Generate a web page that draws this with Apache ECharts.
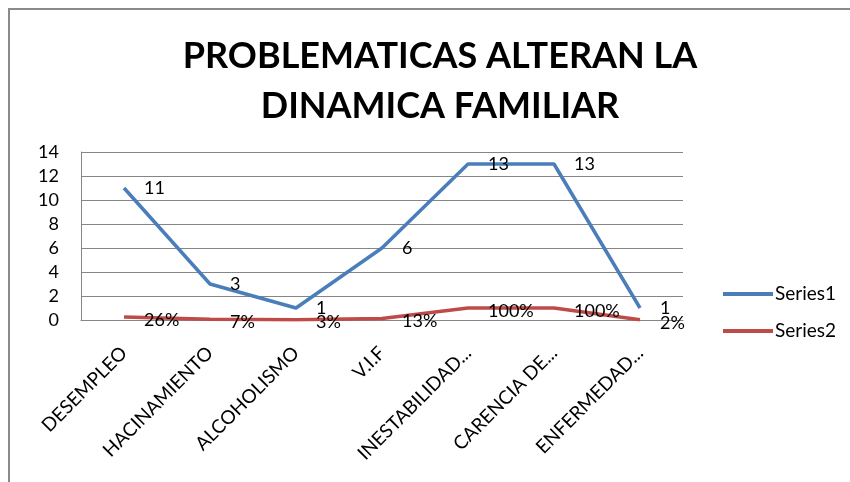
<!DOCTYPE html>
<html>
<head>
<meta charset="utf-8">
<script src="https://cdn.jsdelivr.net/npm/echarts@6/dist/echarts.min.js"></script>
<style>
html,body{margin:0;padding:0;background:#fff;}
#c{width:850px;height:482px;}
</style>
</head>
<body>
<div id="c"></div>
<script>
const titleLines = ['PROBLEMATICAS ALTERAN LA', 'DINAMICA FAMILIAR'];
const categories = ['DESEMPLEO', 'HACINAMIENTO', 'ALCOHOLISMO', 'V.I.F', 'INESTABILIDAD...', 'CARENCIA DE...', 'ENFERMEDAD...'];
const series1 = [11, 3, 1, 6, 13, 13, 1];
const series2 = [0.26, 0.07, 0.03, 0.13, 1.00, 1.00, 0.02];
const yTicks = {min: 0, max: 14, interval: 2};

const FONT = 'Lato, "Liberation Sans", sans-serif';
const chart = echarts.init(document.getElementById('c'), null, {renderer: 'canvas'});
chart.setOption({
  backgroundColor: '#fff',
  animation: false,
  title: {
    text: titleLines.join('\n'),
    left: 435, top: 26, textAlign: 'center',
    textStyle: {fontFamily: FONT, fontSize: 36, fontWeight: 'bold', color: '#000', lineHeight: 50}
  },
  graphic: [{
    type: 'rect', shape: {x: 9, y: 9, width: 1000, height: 1000},
    style: {fill: 'none', stroke: '#8a8a8a', lineWidth: 2}, silent: true, z: 100
  }],
  legend: {
    orient: 'vertical', left: 718, top: 279,
    itemWidth: 50, itemHeight: 4, itemGap: 17,
    icon: 'rect',
    textStyle: {fontFamily: FONT, fontSize: 19, lineHeight: 20, color: '#000', padding: [0,0,0,-3]},
    data: ['Series1', 'Series2']
  },
  grid: {left: 81, right: 167, top: 152, bottom: 162, containLabel: false},
  xAxis: {
    type: 'category', data: categories, boundaryGap: true,
    axisLine: {lineStyle: {color: '#868686', width: 1}},
    axisTick: {show: false},
    axisLabel: {rotate: 45, interval: 0, margin: 30, fontFamily: FONT, fontSize: 19, color: '#000'}
  },
  yAxis: {
    type: 'value', min: yTicks.min, max: yTicks.max, interval: yTicks.interval,
    axisLine: {show: true, lineStyle: {color: '#868686', width: 1}},
    axisTick: {show: false},
    splitLine: {lineStyle: {color: '#868686', width: 1}},
    axisLabel: {margin: 22, fontFamily: FONT, fontSize: 18, color: '#000'}
  },
  series: [{
    name: 'Series1', type: 'line', data: series1, symbol: 'circle', symbolSize: 0, showSymbol: true,
    lineStyle: {color: '#4A7EBB', width: 3.5}, itemStyle: {color: '#4A7EBB'},
    label: {show: true, position: 'right', distance: 20, fontFamily: FONT, fontSize: 18, color: '#000'},
    z: 3
  }, {
    name: 'Series2', type: 'line', data: series2, symbol: 'circle', symbolSize: 0, showSymbol: true,
    lineStyle: {color: '#BE4B48', width: 3.5}, itemStyle: {color: '#BE4B48'},
    label: {show: true, position: 'right', distance: 20, offset: [0, 3], fontFamily: FONT, fontSize: 18, color: '#000',
      formatter: p => Math.round(p.value * 100) + '%'},
    z: 2
  }]
});
</script>
</body>
</html>
